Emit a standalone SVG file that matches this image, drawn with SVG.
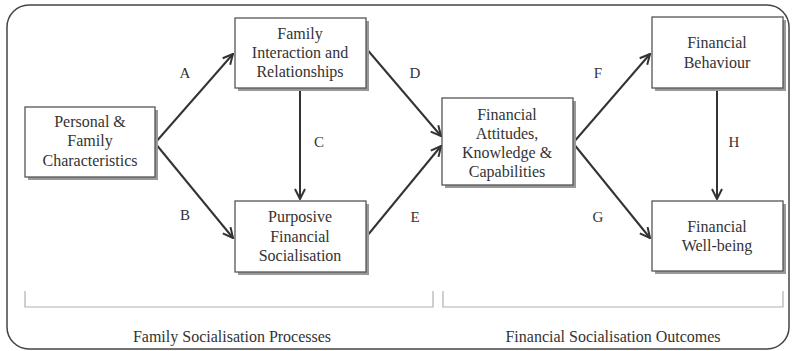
<svg xmlns="http://www.w3.org/2000/svg" width="793" height="351" viewBox="0 0 793 351">
<style>
text{font-family:"Liberation Serif","Times New Roman",serif;fill:#333;}
.nt{font-size:16px;text-anchor:middle;}
.lb{font-size:15px;text-anchor:middle;}
.ft{font-size:16px;text-anchor:middle;}
.box{fill:#fff;stroke:#555;stroke-width:1.3;}
.sh{fill:#999;}
.cn{stroke:#333;stroke-width:2;fill:none;}
.br{stroke:#b0b0b0;stroke-width:1.2;fill:none;}
</style>
<defs>
<marker id="ah" viewBox="0 0 12 12" refX="11" refY="6" markerWidth="12" markerHeight="12" markerUnits="userSpaceOnUse" orient="auto">
<path d="M1,1 L11,6 L1,11" fill="none" stroke="#333" stroke-width="2"/>
</marker>
</defs>
<rect x="7" y="5" width="782" height="344" rx="22" ry="22" fill="#fff" stroke="#444" stroke-width="1.5"/>
<g id="brackets">
<path class="br" d="M25,291 V307 H433 V291"/>
<path class="br" d="M443,291 V307 H783 V291"/>
</g>
<g id="connectors">
<line class="cn" x1="155" y1="143" x2="233" y2="54" marker-end="url(#ah)"/>
<line class="cn" x1="155" y1="143" x2="233" y2="238" marker-end="url(#ah)"/>
<line class="cn" x1="300" y1="88" x2="300" y2="199" marker-end="url(#ah)"/>
<line class="cn" x1="365" y1="47" x2="441" y2="136" marker-end="url(#ah)"/>
<line class="cn" x1="367" y1="236" x2="441" y2="146" marker-end="url(#ah)"/>
<line class="cn" x1="573" y1="143" x2="650" y2="54" marker-end="url(#ah)"/>
<line class="cn" x1="573" y1="143" x2="650" y2="238" marker-end="url(#ah)"/>
<line class="cn" x1="717" y1="88" x2="717" y2="199" marker-end="url(#ah)"/>
<text class="lb" x="185" y="78">A</text>
<text class="lb" x="185" y="220">B</text>
<text class="lb" x="319" y="147">C</text>
<text class="lb" x="415" y="78">D</text>
<text class="lb" x="415" y="222">E</text>
<text class="lb" x="598" y="78">F</text>
<text class="lb" x="598" y="222">G</text>
<text class="lb" x="734" y="147">H</text>
</g>
<g id="personal">
<rect class="sh" x="28" y="110" width="130" height="70"/>
<rect class="box" x="25" y="107" width="130" height="70"/>
<text class="nt" x="90" y="127">Personal &amp;</text>
<text class="nt" x="90" y="146">Family</text>
<text class="nt" x="90" y="166">Characteristics</text>
</g>
<g id="family-interaction">
<rect class="sh" x="238" y="21" width="131" height="70"/>
<rect class="box" x="235" y="18" width="131" height="70"/>
<text class="nt" x="300" y="39">Family</text>
<text class="nt" x="300" y="58">Interaction and</text>
<text class="nt" x="300" y="77">Relationships</text>
</g>
<g id="purposive">
<rect class="sh" x="238" y="204" width="131" height="71"/>
<rect class="box" x="235" y="201" width="131" height="71"/>
<text class="nt" x="300" y="222">Purposive</text>
<text class="nt" x="300" y="242">Financial</text>
<text class="nt" x="300" y="261">Socialisation</text>
</g>
<g id="attitudes">
<rect class="sh" x="445" y="101" width="131" height="87"/>
<rect class="box" x="442" y="98" width="131" height="87"/>
<text class="nt" x="507" y="120">Financial</text>
<text class="nt" x="507" y="139">Attitudes,</text>
<text class="nt" x="507" y="158">Knowledge &amp;</text>
<text class="nt" x="507" y="177">Capabilities</text>
</g>
<g id="behaviour">
<rect class="sh" x="655" y="20" width="131" height="71"/>
<rect class="box" x="652" y="17" width="131" height="71"/>
<text class="nt" x="717" y="48">Financial</text>
<text class="nt" x="717" y="68">Behaviour</text>
</g>
<g id="wellbeing">
<rect class="sh" x="655" y="204" width="131" height="70"/>
<rect class="box" x="652" y="201" width="131" height="70"/>
<text class="nt" x="717" y="232">Financial</text>
<text class="nt" x="717" y="251">Well-being</text>
</g>
<g id="section-labels">
<text class="ft" x="232" y="342">Family Socialisation Processes</text>
<text class="ft" x="613" y="342">Financial Socialisation Outcomes</text>
</g>
</svg>
